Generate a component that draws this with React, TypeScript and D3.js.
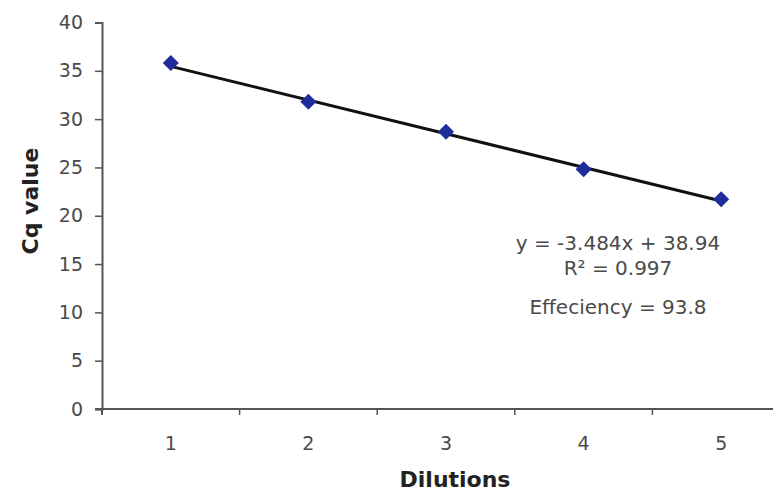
import { useEffect, useRef } from 'react';
import * as d3 from 'd3';

const dilutions = ['1', '2', '3', '4', '5'];
const cqValues = [35.8, 31.8, 28.7, 24.8, 21.7];
const yTicks = [0, 5, 10, 15, 20, 25, 30, 35, 40];
const slope = -3.484;
const intercept = 38.94;
const annotation = ['y = -3.484x + 38.94', 'R² = 0.997', 'Effeciency = 93.8'];

export default function App() {
  const svgRef = useRef<SVGSVGElement>(null);

  useEffect(() => {
    if (!svgRef.current) return;
    const svg = d3.select(svgRef.current);
    svg.selectAll('*').remove();

    const left = 102;
    const bandW = 137.6;
    const x = d3.scaleBand<string>()
      .domain(dilutions)
      .range([left, left + bandW * dilutions.length]);
    const y = d3.scaleLinear().domain([0, 40]).range([409, 22.5]);
    const cx = (d: string) => (x(d) as number) + x.bandwidth() / 2;

    const font = '"DejaVu Sans", Arial, sans-serif';
    const axisColor = '#555';
    const textColor = '#4a4a4a';

    // Y axis
    const yAxis = svg.append('g')
      .attr('transform', `translate(${left},0)`)
      .call(d3.axisLeft(y).tickValues(yTicks).tickSize(7).tickPadding(12));
    yAxis.select('.domain').attr('stroke', axisColor).attr('stroke-width', 2);
    yAxis.selectAll('.tick line').attr('stroke', axisColor).attr('stroke-width', 1.5);
    yAxis.selectAll('.tick text')
      .attr('fill', textColor)
      .attr('font-family', font)
      .attr('font-size', 19);

    // X axis line and category ticks
    svg.append('line')
      .attr('x1', left - 7).attr('x2', 773)
      .attr('y1', y(0)).attr('y2', y(0))
      .attr('stroke', axisColor).attr('stroke-width', 2);
    const bounds = dilutions.map(d => x(d) as number);
    svg.selectAll('.xtick')
      .data(bounds)
      .enter()
      .append('line')
      .attr('x1', d => d).attr('x2', d => d)
      .attr('y1', y(0)).attr('y2', y(0) + 6)
      .attr('stroke', axisColor).attr('stroke-width', (d, i) => (i === 0 ? 2 : 1.5));
    svg.selectAll('.xlabel')
      .data(dilutions)
      .enter()
      .append('text')
      .attr('x', d => cx(d))
      .attr('y', 450)
      .attr('text-anchor', 'middle')
      .attr('fill', textColor)
      .attr('font-family', font)
      .attr('font-size', 19)
      .text(d => d);

    // Axis titles
    svg.append('text')
      .attr('transform', `translate(38,201) rotate(-90)`)
      .attr('text-anchor', 'middle')
      .attr('font-family', font)
      .attr('font-weight', 'bold')
      .attr('font-size', 22)
      .attr('fill', '#222')
      .text('Cq value');
    svg.append('text')
      .attr('x', 455)
      .attr('y', 487)
      .attr('text-anchor', 'middle')
      .attr('font-family', font)
      .attr('font-weight', 'bold')
      .attr('font-size', 22)
      .attr('fill', '#222')
      .text('Dilutions');

    // Trendline
    const first = dilutions[0];
    const last = dilutions[dilutions.length - 1];
    svg.append('line')
      .attr('x1', cx(first)).attr('y1', y(slope * 1 + intercept))
      .attr('x2', cx(last)).attr('y2', y(slope * dilutions.length + intercept))
      .attr('stroke', '#111')
      .attr('stroke-width', 3);

    // Points (square diamonds)
    const r = 8;
    svg.selectAll('.pt')
      .data(cqValues)
      .enter()
      .append('path')
      .attr('d', `M0,${-r}L${r},0L0,${r}L${-r},0Z`)
      .attr('transform', (d, i) => `translate(${cx(dilutions[i])},${y(d)})`)
      .attr('fill', '#1f2d9c');

    // Annotation
    svg.selectAll('.ann')
      .data(annotation)
      .enter()
      .append('text')
      .attr('x', 618)
      .attr('y', (d, i) => [250, 275, 314][i])
      .attr('text-anchor', 'middle')
      .attr('font-family', font)
      .attr('font-size', 20)
      .attr('fill', textColor)
      .text(d => d);
  }, []);

  return (
    <svg
      ref={svgRef}
      width={773}
      height={492}
      style={{ position: 'absolute', left: 0, top: 0, background: '#fff' }}
    />
  );
}
